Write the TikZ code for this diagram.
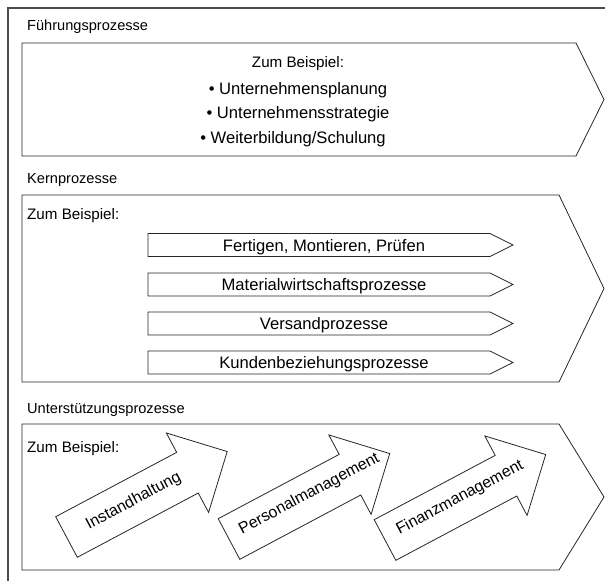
\documentclass[tikz,border=0pt]{standalone}
\usepackage{fontspec}
\setmainfont{Liberation Sans}
\begin{document}
\begin{tikzpicture}[x=1pt,y=-1pt,
  shp/.style={draw=black!85,line width=0.8pt,line join=miter},
  lbl/.style={anchor=base west,inner sep=0pt,text=black,font=\fontsize{14.6}{17}\selectfont},
  zb/.style={anchor=base west,inner sep=0pt,text=black,font=\fontsize{15.2}{18}\selectfont},
  itm/.style={anchor=base,inner sep=0pt,text=black,font=\fontsize{16.6}{19}\selectfont},
  arrtxt/.style={inner sep=0pt,text=black,font=\fontsize{16}{19}\selectfont,rotate=28}]
\useasboundingbox (0,0) rectangle (605,581);
% outer frame
\draw[black!70,line width=1.6pt] (8,581) -- (8,8) -- (605,8);
% Fuehrungsprozesse
\node[lbl] (l1) at (27,30.3) {Führungsprozesse};
\draw[shp] (22,43) -- (576,43) -- (604,99.5) -- (576,156) -- (22,156) -- cycle;
\node[itm] (f0) at (298,67.5) {\fontsize{15.2}{18}\selectfont Zum Beispiel:};
\node[itm] (f1) at (298,94) {• Unternehmensplanung};
\node[itm] (f2) at (298,118.5) {• Unternehmensstrategie};
\node[itm] (f3) at (293,143) {• Weiterbildung/Schulung};
% Kernprozesse
\node[lbl] (l2) at (27,183.3) {Kernprozesse};
\draw[shp] (22,195) -- (559,195) -- (604,288.5) -- (559,382) -- (22,382) -- cycle;
\node[zb] (k0) at (27,219.5) {Zum Beispiel:};
\foreach \yc/\nm/\txt in {245/k1/{Fertigen, Montieren, Prüfen},284.5/k2/Materialwirtschaftsprozesse,323.5/k3/Versandprozesse,362.5/k4/Kundenbeziehungsprozesse}{
  \draw[shp] (148,\yc-11.5) -- (490,\yc-11.5) -- (513,\yc) -- (490,\yc+11.5) -- (148,\yc+11.5) -- cycle;
  \node[itm] (\nm) at (324,\yc+6) {\txt};
}
% Unterstuetzungsprozesse
\node[lbl] (l3) at (27,413.3) {Unterstützungsprozesse};
\draw[shp] (22,424) -- (559,424) -- (604,497) -- (559,570) -- (22,570) -- cycle;
\node[zb] (u0) at (27,452.5) {Zum Beispiel:};
\foreach \sx/\sy/\nm/\txt/\tp/\tq in {66.5/537/u1/Instandhaltung/76/0,229/539/u2/Personalmanagement/92/-2,385/540/u3/Finanzmanagement/86/-2}{
  \begin{scope}[shift={(\sx,\sy)},rotate=28]
    \draw[shp] (0,-23) -- (137,-23) -- (137,-45) -- (182,0) -- (137,45) -- (137,23) -- (0,23) -- cycle;
    \node[arrtxt] (\nm) at (\tp,\tq) {\txt};
  \end{scope}
}
\end{tikzpicture}
\end{document}
